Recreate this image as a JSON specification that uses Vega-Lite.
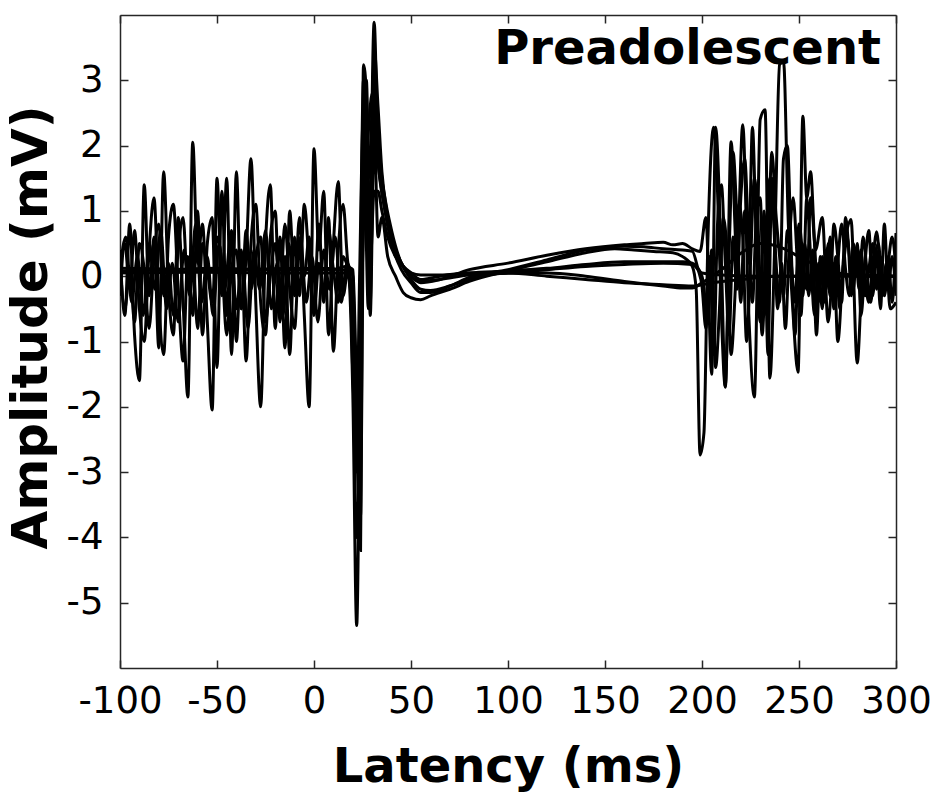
{
"$schema":"https://vega.github.io/schema/vega-lite/v6.json",
"width":776,"height":653,
"autosize":{"type":"none"},
"padding":{"left":120,"top":15,"right":35,"bottom":125},
"background":"white",
"title":{"text":"Preadolescent","anchor":"end","frame":"group","orient":"top","offset":-49,"dy":49,"baseline":"alphabetic","dx":-15,"font":"DejaVu Sans","fontSize":48,"fontWeight":"bold","color":"black"},
"config":{"view":{"stroke":null},
"axis":{"grid":false,"domainColor":"#262626","domainWidth":1.5,"tickColor":"#262626","tickWidth":1.5,"tickSize":-8,"labelFont":"DejaVu Sans","labelFontSize":37,"labelColor":"black","labelFlush":false,"labelOverlap":false,"labelBound":false,"titleFont":"DejaVu Sans","titleFontSize":48,"titleFontWeight":"bold","titleColor":"black"}},
"datasets":{"d":[
{"s":"A","t":-100,"v":0.4},{"s":"A","t":-97.5,"v":-0.6},{"s":"A","t":-95,"v":0.8},{"s":"A","t":-92.5,"v":-0.9},{"s":"A","t":-90,"v":-1.6},{"s":"A","t":-87.5,"v":1.4},{"s":"A","t":-85,"v":-0.3},{"s":"A","t":-82.5,"v":0.6},{"s":"A","t":-80,"v":-1.1},{"s":"A","t":-77.5,"v":1.6},{"s":"A","t":-75,"v":-0.2},{"s":"A","t":-72.5,"v":-0.9},{"s":"A","t":-70,"v":0.9},{"s":"A","t":-67.5,"v":-0.4},{"s":"A","t":-65,"v":-1.85},{"s":"A","t":-62.5,"v":2.05},{"s":"A","t":-60,"v":0.2},{"s":"A","t":-57.5,"v":0.8},{"s":"A","t":-55,"v":-0.7},{"s":"A","t":-52.5,"v":-2.05},{"s":"A","t":-50,"v":1.5},{"s":"A","t":-47.5,"v":-0.3},{"s":"A","t":-45,"v":1.5},{"s":"A","t":-42.5,"v":-1.2},{"s":"A","t":-40,"v":1.6},{"s":"A","t":-37.5,"v":-0.5},{"s":"A","t":-35,"v":0.3},{"s":"A","t":-32.5,"v":1.8},{"s":"A","t":-30,"v":-0.4},{"s":"A","t":-27.5,"v":-2.0},{"s":"A","t":-25,"v":0.5},{"s":"A","t":-22.5,"v":1.4},{"s":"A","t":-20,"v":-0.8},{"s":"A","t":-17.5,"v":0.6},{"s":"A","t":-15,"v":-1.1},{"s":"A","t":-12.5,"v":1.0},{"s":"A","t":-10,"v":-0.2},{"s":"A","t":-7.5,"v":0.9},{"s":"A","t":-5,"v":-0.6},{"s":"A","t":-2.5,"v":-2.0},{"s":"A","t":0,"v":1.95},{"s":"A","t":2.5,"v":0.4},{"s":"A","t":5,"v":1.3},{"s":"A","t":7.5,"v":-0.9},{"s":"A","t":10,"v":0.5},{"s":"A","t":12.5,"v":1.45},{"s":"A","t":15,"v":-0.3},{"s":"A","t":17.5,"v":0.1},{"s":"A","t":20,"v":-1.8},{"s":"A","t":22,"v":-5.35},{"s":"A","t":24,"v":-1.0},{"s":"A","t":26,"v":1.5},{"s":"A","t":28,"v":-0.5},{"s":"A","t":31,"v":3.89},{"s":"A","t":33,"v":2.0},{"s":"A","t":36,"v":1.3},{"s":"A","t":40,"v":0.7},{"s":"A","t":45,"v":0.2},{"s":"A","t":50,"v":0.0},{"s":"A","t":55,"v":-0.1},{"s":"A","t":65,"v":-0.05},{"s":"A","t":80,"v":0.1},{"s":"A","t":100,"v":0.2},{"s":"A","t":120,"v":0.32},{"s":"A","t":140,"v":0.42},{"s":"A","t":160,"v":0.48},{"s":"A","t":170,"v":0.5},{"s":"A","t":180,"v":0.52},{"s":"A","t":185,"v":0.48},{"s":"A","t":190,"v":0.5},{"s":"A","t":195,"v":0.42},{"s":"A","t":199,"v":0.38},{"s":"A","t":202,"v":0.9},{"s":"A","t":205,"v":-1.5},{"s":"A","t":207,"v":2.28},{"s":"A","t":210,"v":0.2},{"s":"A","t":212,"v":-1.7},{"s":"A","t":215,"v":2.06},{"s":"A","t":218,"v":0.3},{"s":"A","t":221,"v":2.32},{"s":"A","t":224,"v":-0.5},{"s":"A","t":227,"v":-1.85},{"s":"A","t":230,"v":2.4},{"s":"A","t":232.5,"v":2.55},{"s":"A","t":235,"v":-1.56},{"s":"A","t":237.5,"v":0.5},{"s":"A","t":240,"v":3.24},{"s":"A","t":242,"v":3.3},{"s":"A","t":244.5,"v":0.8},{"s":"A","t":247,"v":-0.6},{"s":"A","t":249.5,"v":-1.47},{"s":"A","t":252,"v":2.45},{"s":"A","t":254,"v":1.2},{"s":"A","t":256,"v":1.6},{"s":"A","t":258.5,"v":0.4},{"s":"A","t":262,"v":0.9},{"s":"A","t":265,"v":-0.7},{"s":"A","t":268,"v":0.2},{"s":"A","t":270,"v":-1.0},{"s":"A","t":273,"v":0.3},{"s":"A","t":276.8,"v":0.87},{"s":"A","t":280,"v":-1.33},{"s":"A","t":283,"v":0.1},{"s":"A","t":286,"v":-0.4},{"s":"A","t":290,"v":0.68},{"s":"A","t":293,"v":-0.2},{"s":"A","t":296,"v":0.3},{"s":"A","t":298,"v":-0.4},{"s":"A","t":300,"v":0.66},
{"s":"B","t":-100,"v":-0.3},{"s":"B","t":-97.5,"v":0.5},{"s":"B","t":-95,"v":-0.2},{"s":"B","t":-92.5,"v":0.7},{"s":"B","t":-90,"v":-0.5},{"s":"B","t":-87.5,"v":-1.0},{"s":"B","t":-85,"v":0.4},{"s":"B","t":-82.5,"v":1.2},{"s":"B","t":-80,"v":-0.4},{"s":"B","t":-77.5,"v":-1.2},{"s":"B","t":-75,"v":0.6},{"s":"B","t":-72.5,"v":1.1},{"s":"B","t":-70,"v":-0.2},{"s":"B","t":-67.5,"v":-1.3},{"s":"B","t":-65,"v":0.3},{"s":"B","t":-62.5,"v":-0.6},{"s":"B","t":-60,"v":1.0},{"s":"B","t":-57.5,"v":-0.9},{"s":"B","t":-55,"v":0.5},{"s":"B","t":-52.5,"v":0.9},{"s":"B","t":-50,"v":-1.4},{"s":"B","t":-47.5,"v":1.3},{"s":"B","t":-45,"v":-0.6},{"s":"B","t":-42.5,"v":0.7},{"s":"B","t":-40,"v":-1.0},{"s":"B","t":-37.5,"v":0.4},{"s":"B","t":-35,"v":-1.3},{"s":"B","t":-32.5,"v":0.5},{"s":"B","t":-30,"v":1.1},{"s":"B","t":-27.5,"v":-0.4},{"s":"B","t":-25,"v":-0.9},{"s":"B","t":-22.5,"v":0.6},{"s":"B","t":-20,"v":1.0},{"s":"B","t":-17.5,"v":-0.7},{"s":"B","t":-15,"v":0.3},{"s":"B","t":-12.5,"v":-1.2},{"s":"B","t":-10,"v":0.6},{"s":"B","t":-7.5,"v":-0.3},{"s":"B","t":-5,"v":1.1},{"s":"B","t":-2.5,"v":0.2},{"s":"B","t":0,"v":-0.5},{"s":"B","t":2.5,"v":0.8},{"s":"B","t":5,"v":-0.4},{"s":"B","t":7.5,"v":0.9},{"s":"B","t":10,"v":-1.15},{"s":"B","t":12.5,"v":0.4},{"s":"B","t":15,"v":1.1},{"s":"B","t":17.5,"v":0.2},{"s":"B","t":20,"v":0.0},{"s":"B","t":22,"v":-2.55},{"s":"B","t":24,"v":-3.69},{"s":"B","t":25.5,"v":3.24},{"s":"B","t":27,"v":2.8},{"s":"B","t":29,"v":-0.6},{"s":"B","t":31,"v":2.3},{"s":"B","t":33,"v":0.6},{"s":"B","t":35,"v":0.9},{"s":"B","t":38,"v":0.3},{"s":"B","t":42,"v":0.0},{"s":"B","t":46,"v":-0.25},{"s":"B","t":50,"v":-0.33},{"s":"B","t":55,"v":-0.36},{"s":"B","t":60,"v":-0.3},{"s":"B","t":70,"v":-0.2},{"s":"B","t":80,"v":-0.08},{"s":"B","t":100,"v":0.08},{"s":"B","t":120,"v":0.22},{"s":"B","t":140,"v":0.36},{"s":"B","t":155,"v":0.42},{"s":"B","t":165,"v":0.4},{"s":"B","t":175,"v":0.38},{"s":"B","t":185,"v":0.36},{"s":"B","t":190,"v":0.3},{"s":"B","t":195,"v":0.15},{"s":"B","t":197,"v":-0.2},{"s":"B","t":199,"v":-2.74},{"s":"B","t":201,"v":-2.4},{"s":"B","t":203,"v":0.5},{"s":"B","t":206,"v":2.28},{"s":"B","t":208,"v":1.3},{"s":"B","t":210,"v":-0.6},{"s":"B","t":212,"v":-1.69},{"s":"B","t":214,"v":0.4},{"s":"B","t":216,"v":1.9},{"s":"B","t":218,"v":0.9},{"s":"B","t":220,"v":-0.4},{"s":"B","t":222,"v":1.0},{"s":"B","t":224,"v":0.2},{"s":"B","t":226,"v":2.28},{"s":"B","t":228,"v":0.5},{"s":"B","t":230,"v":-0.7},{"s":"B","t":232,"v":1.0},{"s":"B","t":234,"v":-1.2},{"s":"B","t":236,"v":1.5},{"s":"B","t":238,"v":0.3},{"s":"B","t":240,"v":-0.4},{"s":"B","t":242,"v":1.8},{"s":"B","t":244,"v":2.0},{"s":"B","t":246,"v":0.4},{"s":"B","t":248,"v":-0.9},{"s":"B","t":250,"v":0.6},{"s":"B","t":252,"v":-0.3},{"s":"B","t":254,"v":1.2},{"s":"B","t":256,"v":0.3},{"s":"B","t":258,"v":-0.6},{"s":"B","t":260,"v":0.2},{"s":"B","t":262,"v":-0.5},{"s":"B","t":264,"v":0.4},{"s":"B","t":266,"v":-0.3},{"s":"B","t":268,"v":0.8},{"s":"B","t":270,"v":0.3},{"s":"B","t":272,"v":-0.4},{"s":"B","t":274,"v":0.9},{"s":"B","t":276,"v":0.3},{"s":"B","t":278,"v":-0.2},{"s":"B","t":280,"v":0.5},{"s":"B","t":282,"v":-0.6},{"s":"B","t":284,"v":0.2},{"s":"B","t":286,"v":0.7},{"s":"B","t":288,"v":-0.3},{"s":"B","t":290,"v":0.4},{"s":"B","t":292,"v":-0.5},{"s":"B","t":294,"v":0.8},{"s":"B","t":296,"v":-0.2},{"s":"B","t":298,"v":0.3},{"s":"B","t":300,"v":-0.3},
{"s":"C","t":-100,"v":0.2},{"s":"C","t":-97.5,"v":-0.5},{"s":"C","t":-95,"v":0.1},{"s":"C","t":-92.5,"v":-0.7},{"s":"C","t":-90,"v":0.5},{"s":"C","t":-87.5,"v":0.1},{"s":"C","t":-85,"v":-0.8},{"s":"C","t":-82.5,"v":0.3},{"s":"C","t":-80,"v":0.8},{"s":"C","t":-77.5,"v":-0.3},{"s":"C","t":-75,"v":0.2},{"s":"C","t":-72.5,"v":-0.6},{"s":"C","t":-70,"v":0.4},{"s":"C","t":-67.5,"v":0.9},{"s":"C","t":-65,"v":-0.2},{"s":"C","t":-62.5,"v":0.3},{"s":"C","t":-60,"v":-0.8},{"s":"C","t":-57.5,"v":0.5},{"s":"C","t":-55,"v":0.1},{"s":"C","t":-52.5,"v":-0.4},{"s":"C","t":-50,"v":0.6},{"s":"C","t":-47.5,"v":0.2},{"s":"C","t":-45,"v":-0.9},{"s":"C","t":-42.5,"v":0.1},{"s":"C","t":-40,"v":0.4},{"s":"C","t":-37.5,"v":-0.5},{"s":"C","t":-35,"v":0.7},{"s":"C","t":-32.5,"v":-0.2},{"s":"C","t":-30,"v":0.3},{"s":"C","t":-27.5,"v":0.6},{"s":"C","t":-25,"v":-0.7},{"s":"C","t":-22.5,"v":0.0},{"s":"C","t":-20,"v":0.5},{"s":"C","t":-17.5,"v":-0.3},{"s":"C","t":-15,"v":0.8},{"s":"C","t":-12.5,"v":-0.2},{"s":"C","t":-10,"v":-0.8},{"s":"C","t":-7.5,"v":0.4},{"s":"C","t":-5,"v":0.0},{"s":"C","t":-2.5,"v":0.6},{"s":"C","t":0,"v":-0.6},{"s":"C","t":2.5,"v":0.2},{"s":"C","t":5,"v":-0.3},{"s":"C","t":7.5,"v":0.7},{"s":"C","t":10,"v":0.1},{"s":"C","t":12.5,"v":-0.4},{"s":"C","t":15,"v":0.3},{"s":"C","t":17.5,"v":0.15},{"s":"C","t":20,"v":0.1},{"s":"C","t":22,"v":-1.8},{"s":"C","t":24,"v":-4.2},{"s":"C","t":25.5,"v":1.6},{"s":"C","t":27,"v":3.0},{"s":"C","t":29,"v":0.2},{"s":"C","t":31,"v":1.3},{"s":"C","t":33,"v":1.3},{"s":"C","t":35,"v":1.0},{"s":"C","t":38,"v":0.6},{"s":"C","t":42,"v":0.3},{"s":"C","t":46,"v":0.15},{"s":"C","t":50,"v":0.05},{"s":"C","t":55,"v":-0.05},{"s":"C","t":65,"v":0.0},{"s":"C","t":80,"v":0.05},{"s":"C","t":100,"v":0.08},{"s":"C","t":120,"v":0.12},{"s":"C","t":140,"v":0.18},{"s":"C","t":160,"v":0.22},{"s":"C","t":180,"v":0.22},{"s":"C","t":190,"v":0.22},{"s":"C","t":195,"v":0.2},{"s":"C","t":200,"v":0.0},{"s":"C","t":203,"v":-0.6},{"s":"C","t":205,"v":0.4},{"s":"C","t":207,"v":-1.4},{"s":"C","t":209,"v":-0.5},{"s":"C","t":211,"v":0.9},{"s":"C","t":213,"v":0.3},{"s":"C","t":215,"v":-1.2},{"s":"C","t":217,"v":-0.3},{"s":"C","t":219,"v":1.1},{"s":"C","t":221,"v":0.6},{"s":"C","t":223,"v":-1.0},{"s":"C","t":225,"v":0.2},{"s":"C","t":227,"v":1.5},{"s":"C","t":229,"v":0.7},{"s":"C","t":231,"v":-0.9},{"s":"C","t":233,"v":0.4},{"s":"C","t":235,"v":1.5},{"s":"C","t":237,"v":0.8},{"s":"C","t":239,"v":-0.5},{"s":"C","t":241,"v":0.2},{"s":"C","t":243,"v":-0.8},{"s":"C","t":245,"v":0.5},{"s":"C","t":247,"v":1.2},{"s":"C","t":249,"v":0.3},{"s":"C","t":251,"v":-0.6},{"s":"C","t":253,"v":0.5},{"s":"C","t":255,"v":-0.3},{"s":"C","t":257,"v":0.4},{"s":"C","t":259,"v":-0.9},{"s":"C","t":261,"v":0.3},{"s":"C","t":263,"v":-0.4},{"s":"C","t":265,"v":0.5},{"s":"C","t":267,"v":-0.2},{"s":"C","t":269,"v":0.3},{"s":"C","t":271,"v":-0.5},{"s":"C","t":273,"v":0.2},{"s":"C","t":275,"v":0.6},{"s":"C","t":277,"v":-0.3},{"s":"C","t":279,"v":0.4},{"s":"C","t":281,"v":-0.2},{"s":"C","t":283,"v":0.6},{"s":"C","t":285,"v":0.1},{"s":"C","t":287,"v":-0.4},{"s":"C","t":289,"v":0.3},{"s":"C","t":291,"v":0.5},{"s":"C","t":293,"v":-0.3},{"s":"C","t":295,"v":0.2},{"s":"C","t":297,"v":-0.5},{"s":"C","t":300,"v":-0.4},
{"s":"D","t":-100,"v":0.08},{"s":"D","t":-75,"v":0.1},{"s":"D","t":-50,"v":0.12},{"s":"D","t":-25,"v":0.1},{"s":"D","t":0,"v":0.1},{"s":"D","t":10,"v":0.1},{"s":"D","t":16,"v":0.15},{"s":"D","t":18,"v":0.0},{"s":"D","t":20,"v":-0.8},{"s":"D","t":22,"v":-3.0},{"s":"D","t":23.5,"v":-1.0},{"s":"D","t":25.5,"v":3.0},{"s":"D","t":27,"v":2.0},{"s":"D","t":29,"v":-0.4},{"s":"D","t":31,"v":3.5},{"s":"D","t":33,"v":2.6},{"s":"D","t":35,"v":1.6},{"s":"D","t":38,"v":0.9},{"s":"D","t":42,"v":0.4},{"s":"D","t":46,"v":0.15},{"s":"D","t":50,"v":0.05},{"s":"D","t":55,"v":0.02},{"s":"D","t":65,"v":0.02},{"s":"D","t":80,"v":0.05},{"s":"D","t":100,"v":0.05},{"s":"D","t":120,"v":0.0},{"s":"D","t":140,"v":-0.05},{"s":"D","t":160,"v":-0.1},{"s":"D","t":180,"v":-0.13},{"s":"D","t":195,"v":-0.15},{"s":"D","t":205,"v":-0.1},{"s":"D","t":220,"v":-0.05},{"s":"D","t":240,"v":0.0},{"s":"D","t":260,"v":0.0},{"s":"D","t":280,"v":0.02},{"s":"D","t":300,"v":0.0},
{"s":"E","t":-100,"v":0.05},{"s":"E","t":-60,"v":0.06},{"s":"E","t":-20,"v":0.05},{"s":"E","t":18,"v":0.05},{"s":"E","t":20,"v":-1.2},{"s":"E","t":22,"v":-4.0},{"s":"E","t":24,"v":-2.0},{"s":"E","t":26,"v":2.0},{"s":"E","t":28,"v":1.5},{"s":"E","t":31,"v":3.0},{"s":"E","t":33,"v":2.2},{"s":"E","t":36,"v":1.2},{"s":"E","t":40,"v":0.6},{"s":"E","t":45,"v":0.2},{"s":"E","t":50,"v":-0.05},{"s":"E","t":55,"v":-0.2},{"s":"E","t":60,"v":-0.22},{"s":"E","t":70,"v":-0.15},{"s":"E","t":80,"v":-0.05},{"s":"E","t":100,"v":0.05},{"s":"E","t":120,"v":0.05},{"s":"E","t":140,"v":0.0},{"s":"E","t":160,"v":-0.08},{"s":"E","t":180,"v":-0.15},{"s":"E","t":190,"v":-0.18},{"s":"E","t":195,"v":-0.18},{"s":"E","t":200,"v":-0.1},{"s":"E","t":210,"v":0.1},{"s":"E","t":220,"v":0.35},{"s":"E","t":230,"v":0.5},{"s":"E","t":240,"v":0.45},{"s":"E","t":250,"v":0.3},{"s":"E","t":260,"v":0.15},{"s":"E","t":270,"v":0.05},{"s":"E","t":285,"v":0.0},{"s":"E","t":300,"v":0.0},
{"s":"F","t":-100,"v":0.1},{"s":"F","t":-97,"v":0.6},{"s":"F","t":-94,"v":-0.4},{"s":"F","t":-91,"v":0.3},{"s":"F","t":-88,"v":-0.6},{"s":"F","t":-85,"v":0.5},{"s":"F","t":-82,"v":-0.2},{"s":"F","t":-79,"v":0.7},{"s":"F","t":-76,"v":-0.5},{"s":"F","t":-73,"v":0.2},{"s":"F","t":-70,"v":-0.7},{"s":"F","t":-67,"v":0.4},{"s":"F","t":-64,"v":-0.3},{"s":"F","t":-61,"v":0.8},{"s":"F","t":-58,"v":-0.4},{"s":"F","t":-55,"v":0.3},{"s":"F","t":-52,"v":-0.6},{"s":"F","t":-49,"v":0.5},{"s":"F","t":-46,"v":-0.2},{"s":"F","t":-43,"v":0.6},{"s":"F","t":-40,"v":-0.5},{"s":"F","t":-37,"v":0.3},{"s":"F","t":-34,"v":-0.8},{"s":"F","t":-31,"v":0.4},{"s":"F","t":-28,"v":-0.2},{"s":"F","t":-25,"v":0.7},{"s":"F","t":-22,"v":-0.5},{"s":"F","t":-19,"v":0.2},{"s":"F","t":-16,"v":-0.6},{"s":"F","t":-13,"v":0.5},{"s":"F","t":-10,"v":-0.3},{"s":"F","t":-7,"v":0.6},{"s":"F","t":-4,"v":-0.4},{"s":"F","t":-1,"v":0.3},{"s":"F","t":2,"v":-0.7},{"s":"F","t":5,"v":0.4},{"s":"F","t":8,"v":-0.2},{"s":"F","t":11,"v":0.6},{"s":"F","t":14,"v":-0.4},{"s":"F","t":17,"v":0.2},{"s":"F","t":18.5,"v":0.1},{"s":"F","t":20,"v":-1.5},{"s":"F","t":22,"v":-2.4},{"s":"F","t":23.5,"v":0.0},{"s":"F","t":25.5,"v":2.5},{"s":"F","t":27,"v":1.0},{"s":"F","t":29,"v":0.9},{"s":"F","t":31,"v":3.2},{"s":"F","t":33,"v":1.8},{"s":"F","t":36,"v":1.1},{"s":"F","t":40,"v":0.5},{"s":"F","t":45,"v":0.1},{"s":"F","t":50,"v":-0.1},{"s":"F","t":55,"v":-0.25},{"s":"F","t":60,"v":-0.25},{"s":"F","t":70,"v":-0.15},{"s":"F","t":80,"v":-0.02},{"s":"F","t":100,"v":0.1},{"s":"F","t":120,"v":0.25},{"s":"F","t":140,"v":0.4},{"s":"F","t":160,"v":0.46},{"s":"F","t":170,"v":0.45},{"s":"F","t":180,"v":0.42},{"s":"F","t":190,"v":0.4},{"s":"F","t":195,"v":0.38},{"s":"F","t":198,"v":0.1},{"s":"F","t":200,"v":-0.15},{"s":"F","t":202,"v":-0.8},{"s":"F","t":204,"v":0.3},{"s":"F","t":206,"v":-1.2},{"s":"F","t":208,"v":0.8},{"s":"F","t":210,"v":1.4},{"s":"F","t":212,"v":0.2},{"s":"F","t":214,"v":-0.9},{"s":"F","t":216,"v":0.6},{"s":"F","t":218,"v":-0.2},{"s":"F","t":220,"v":1.2},{"s":"F","t":222,"v":1.8},{"s":"F","t":224,"v":0.6},{"s":"F","t":226,"v":-0.4},{"s":"F","t":228,"v":0.9},{"s":"F","t":230,"v":1.2},{"s":"F","t":232,"v":-0.6},{"s":"F","t":234,"v":0.3},{"s":"F","t":236,"v":1.9},{"s":"F","t":238,"v":1.0},{"s":"F","t":240,"v":0.3},{"s":"F","t":242,"v":-0.3},{"s":"F","t":244,"v":0.7},{"s":"F","t":246,"v":0.2},{"s":"F","t":248,"v":-0.4},{"s":"F","t":250,"v":0.8},{"s":"F","t":252,"v":0.3},{"s":"F","t":254,"v":-0.2},{"s":"F","t":256,"v":1.2},{"s":"F","t":258,"v":0.5},{"s":"F","t":260,"v":-0.4},{"s":"F","t":262,"v":0.3},{"s":"F","t":264,"v":-0.2},{"s":"F","t":266,"v":0.6},{"s":"F","t":268,"v":-0.5},{"s":"F","t":270,"v":0.2},{"s":"F","t":272,"v":0.8},{"s":"F","t":274,"v":0.1},{"s":"F","t":276,"v":-0.3},{"s":"F","t":278,"v":0.5},{"s":"F","t":280,"v":0.0},{"s":"F","t":282,"v":0.4},{"s":"F","t":284,"v":-0.3},{"s":"F","t":286,"v":0.1},{"s":"F","t":288,"v":0.5},{"s":"F","t":290,"v":-0.2},{"s":"F","t":292,"v":0.3},{"s":"F","t":294,"v":-0.3},{"s":"F","t":296,"v":0.2},{"s":"F","t":298,"v":0.6},{"s":"F","t":300,"v":0.1},
{"s":"G","t":-100,"v":0.12},{"s":"G","t":-50,"v":0.1},{"s":"G","t":0,"v":0.12},{"s":"G","t":15,"v":0.1},{"s":"G","t":18,"v":0.05},{"s":"G","t":20,"v":-0.5},{"s":"G","t":22,"v":-2.0},{"s":"G","t":24,"v":-0.8},{"s":"G","t":26,"v":1.2},{"s":"G","t":28,"v":2.2},{"s":"G","t":30,"v":2.8},{"s":"G","t":32,"v":2.0},{"s":"G","t":35,"v":1.3},{"s":"G","t":38,"v":0.8},{"s":"G","t":42,"v":0.4},{"s":"G","t":46,"v":0.15},{"s":"G","t":50,"v":0.0},{"s":"G","t":55,"v":-0.08},{"s":"G","t":65,"v":-0.05},{"s":"G","t":80,"v":0.02},{"s":"G","t":100,"v":0.05},{"s":"G","t":120,"v":0.1},{"s":"G","t":140,"v":0.15},{"s":"G","t":160,"v":0.18},{"s":"G","t":180,"v":0.2},{"s":"G","t":195,"v":0.18},{"s":"G","t":200,"v":0.05},{"s":"G","t":210,"v":0.02},{"s":"G","t":230,"v":0.0},{"s":"G","t":260,"v":0.0},{"s":"G","t":300,"v":0.0}
]},
"data":{"name":"d"},
"resolve":{"axis":{"x":"independent","y":"independent"}},
"layer":[
{"mark":{"type":"line","color":"black","strokeWidth":3,"clip":true,"interpolate":"monotone"},
"encoding":{
"x":{"field":"t","type":"quantitative","scale":{"domain":[-100,300],"nice":false},"axis":{"orient":"bottom","values":[-100,-50,0,50,100,150,200,250,300],"labelExpr":"replace(datum.label,'−','-')","labelPadding":23,"title":"Latency (ms)","titlePadding":24}},
"y":{"field":"v","type":"quantitative","scale":{"domain":[-6,4],"nice":false},"axis":{"orient":"left","values":[-5,-4,-3,-2,-1,0,1,2,3],"labelExpr":"replace(datum.label,'−','-')","labelPadding":25,"title":"Amplitude (mV)","titlePadding":10,"titleFontSize":50,"titleY":312}},
"detail":{"field":"s"}}},
{"mark":{"type":"point","opacity":0},
"encoding":{
"x":{"field":"t","type":"quantitative","axis":{"orient":"top","values":[-100,-50,0,50,100,150,200,250,300],"labels":false,"title":null}},
"y":{"field":"v","type":"quantitative","axis":{"orient":"right","values":[-5,-4,-3,-2,-1,0,1,2,3],"labels":false,"title":null}}}}
]
}
